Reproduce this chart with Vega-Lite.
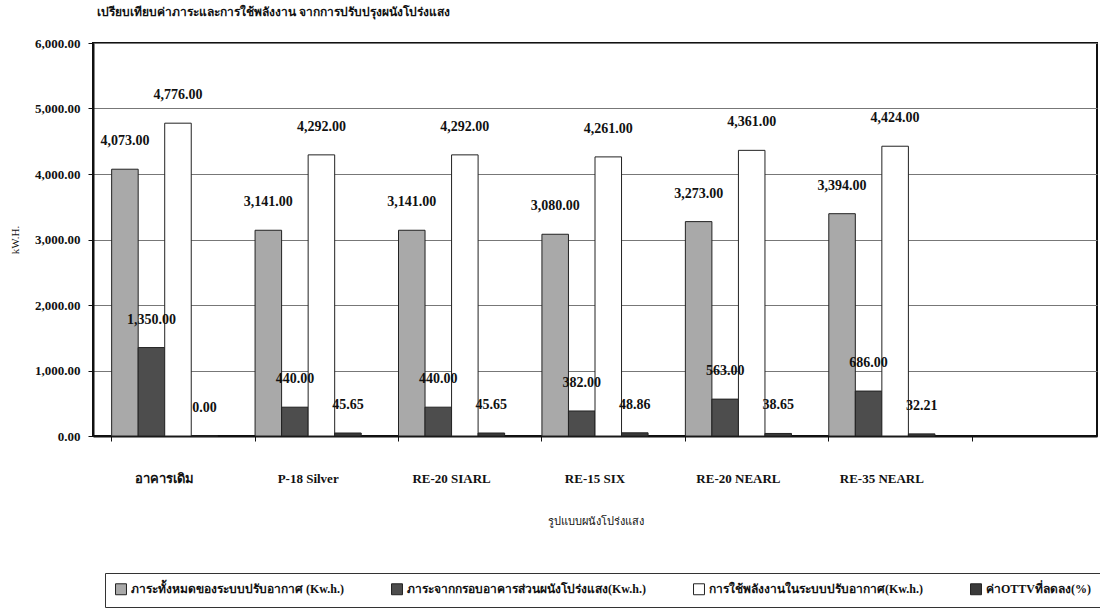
{
  "$schema": "https://vega.github.io/schema/vega-lite/v6.json",
  "width": 1004,
  "height": 393,
  "autosize": {"type": "none"},
  "padding": {"left": 93, "top": 43, "right": 3, "bottom": 175},
  "background": "white",
  "title": {
    "text": "เปรียบเทียบค่าภาระและการใช้พลังงาน จากการปรับปรุงผนังโปร่งแสง",
    "anchor": "start",
    "frame": "group",
    "offset": 18,
    "fontSize": 12,
    "fontWeight": "bold",
    "font": "Liberation Serif",
    "color": "#111",
    "dx": 4
  },
  "config": {
    "view": {"stroke": "#111", "strokeWidth": 2},
    "font": "Liberation Serif"
  },
  "data": {
    "values": [
      {"cat": "อาคารเดิม", "series": "ภาระทั้งหมดของระบบปรับอากาศ (Kw.h.)", "value": 4073},
      {"cat": "อาคารเดิม", "series": "ภาระจากกรอบอาคารส่วนผนังโปร่งแสง(Kw.h.)", "value": 1350},
      {"cat": "อาคารเดิม", "series": "การใช้พลังงานในระบบปรับอากาศ(Kw.h.)", "value": 4776},
      {"cat": "อาคารเดิม", "series": "ค่าOTTVที่ลดลง(%)", "value": 0},
      {"cat": "P-18 Silver", "series": "ภาระทั้งหมดของระบบปรับอากาศ (Kw.h.)", "value": 3141},
      {"cat": "P-18 Silver", "series": "ภาระจากกรอบอาคารส่วนผนังโปร่งแสง(Kw.h.)", "value": 440},
      {"cat": "P-18 Silver", "series": "การใช้พลังงานในระบบปรับอากาศ(Kw.h.)", "value": 4292},
      {"cat": "P-18 Silver", "series": "ค่าOTTVที่ลดลง(%)", "value": 45.65},
      {"cat": "RE-20 SIARL", "series": "ภาระทั้งหมดของระบบปรับอากาศ (Kw.h.)", "value": 3141},
      {"cat": "RE-20 SIARL", "series": "ภาระจากกรอบอาคารส่วนผนังโปร่งแสง(Kw.h.)", "value": 440},
      {"cat": "RE-20 SIARL", "series": "การใช้พลังงานในระบบปรับอากาศ(Kw.h.)", "value": 4292},
      {"cat": "RE-20 SIARL", "series": "ค่าOTTVที่ลดลง(%)", "value": 45.65},
      {"cat": "RE-15 SIX", "series": "ภาระทั้งหมดของระบบปรับอากาศ (Kw.h.)", "value": 3080},
      {"cat": "RE-15 SIX", "series": "ภาระจากกรอบอาคารส่วนผนังโปร่งแสง(Kw.h.)", "value": 382},
      {"cat": "RE-15 SIX", "series": "การใช้พลังงานในระบบปรับอากาศ(Kw.h.)", "value": 4261},
      {"cat": "RE-15 SIX", "series": "ค่าOTTVที่ลดลง(%)", "value": 48.86},
      {"cat": "RE-20 NEARL", "series": "ภาระทั้งหมดของระบบปรับอากาศ (Kw.h.)", "value": 3273},
      {"cat": "RE-20 NEARL", "series": "ภาระจากกรอบอาคารส่วนผนังโปร่งแสง(Kw.h.)", "value": 563},
      {"cat": "RE-20 NEARL", "series": "การใช้พลังงานในระบบปรับอากาศ(Kw.h.)", "value": 4361},
      {"cat": "RE-20 NEARL", "series": "ค่าOTTVที่ลดลง(%)", "value": 38.65},
      {"cat": "RE-35 NEARL", "series": "ภาระทั้งหมดของระบบปรับอากาศ (Kw.h.)", "value": 3394},
      {"cat": "RE-35 NEARL", "series": "ภาระจากกรอบอาคารส่วนผนังโปร่งแสง(Kw.h.)", "value": 686},
      {"cat": "RE-35 NEARL", "series": "การใช้พลังงานในระบบปรับอากาศ(Kw.h.)", "value": 4424},
      {"cat": "RE-35 NEARL", "series": "ค่าOTTVที่ลดลง(%)", "value": 32.21}
    ]
  },
  "encoding": {
    "x": {
      "field": "cat",
      "type": "nominal",
      "scale": {
        "domain": ["อาคารเดิม", "P-18 Silver", "RE-20 SIARL", "RE-15 SIX", "RE-20 NEARL", "RE-35 NEARL", " "],
        "paddingInner": 0.26,
        "paddingOuter": 0.13
      },
      "axis": {
        "title": "รูปแบบผนังโปร่งแสง",
        "titleFont": "Liberation Serif",
        "titleFontSize": 11,
        "titleFontWeight": "normal",
        "titleColor": "#111",
        "titlePadding": 30,
        "labelAngle": 0,
        "labelFont": "Liberation Serif",
        "labelFontSize": 13,
        "labelFontWeight": "bold",
        "labelColor": "#111",
        "labelPadding": 31,
        "bandPosition": 0,
        "tickColor": "#111",
        "tickSize": 5,
        "domainColor": "#111",
        "domainWidth": 2,
        "grid": false
      }
    },
    "xOffset": {
      "field": "series",
      "type": "nominal",
      "sort": ["ภาระทั้งหมดของระบบปรับอากาศ (Kw.h.)", "ภาระจากกรอบอาคารส่วนผนังโปร่งแสง(Kw.h.)", "การใช้พลังงานในระบบปรับอากาศ(Kw.h.)", "ค่าOTTVที่ลดลง(%)"],
      "scale": {"paddingInner": 0, "paddingOuter": 0}
    },
    "y": {
      "field": "value",
      "type": "quantitative",
      "scale": {"domain": [0, 6000], "nice": false},
      "axis": {
        "title": "kW.H.",
        "titleFont": "Liberation Serif",
        "titleFontSize": 11,
        "titleFontWeight": "normal",
        "titleColor": "#111",
        "titlePadding": 14,
        "values": [0, 1000, 2000, 3000, 4000, 5000, 6000],
        "format": ",.2f",
        "labelFont": "Liberation Serif",
        "labelFontSize": 13,
        "labelFontWeight": "bold",
        "labelColor": "#111",
        "labelPadding": 8,
        "tickColor": "#111",
        "tickSize": 5,
        "domainColor": "#111",
        "domainWidth": 2,
        "grid": true,
        "gridColor": "#777",
        "gridWidth": 1
      }
    }
  },
  "layer": [
    {
      "mark": {"type": "bar", "stroke": "#222", "strokeWidth": 1},
      "encoding": {
        "color": {
          "field": "series",
          "type": "nominal",
          "scale": {
            "domain": ["ภาระทั้งหมดของระบบปรับอากาศ (Kw.h.)", "ภาระจากกรอบอาคารส่วนผนังโปร่งแสง(Kw.h.)", "การใช้พลังงานในระบบปรับอากาศ(Kw.h.)", "ค่าOTTVที่ลดลง(%)"],
            "range": ["#a9a9a9", "#4d4d4d", "#ffffff", "#3a3a3a"]
          },
          "legend": {
            "title": null,
            "orient": "none",
            "legendX": 12,
            "legendY": 530,
            "direction": "horizontal",
            "columns": 4,
            "symbolType": "square",
            "symbolSize": 120,
            "symbolStrokeColor": "#222",
            "symbolStrokeWidth": 1,
            "labelFont": "Liberation Serif",
            "labelFontSize": 12,
            "labelFontWeight": "bold",
            "labelColor": "#111",
            "labelLimit": 500,
            "columnPadding": 44,
            "strokeColor": "#333",
            "fillColor": "white",
            "padding": 10
          }
        }
      }
    },
    {
      "mark": {"type": "text", "baseline": "middle", "align": "center", "dy": -28, "fontSize": 14, "fontWeight": "bold", "font": "Liberation Serif", "color": "#111"},
      "encoding": {
        "text": {"field": "value", "type": "quantitative", "format": ",.2f"}
      }
    }
  ]
}
